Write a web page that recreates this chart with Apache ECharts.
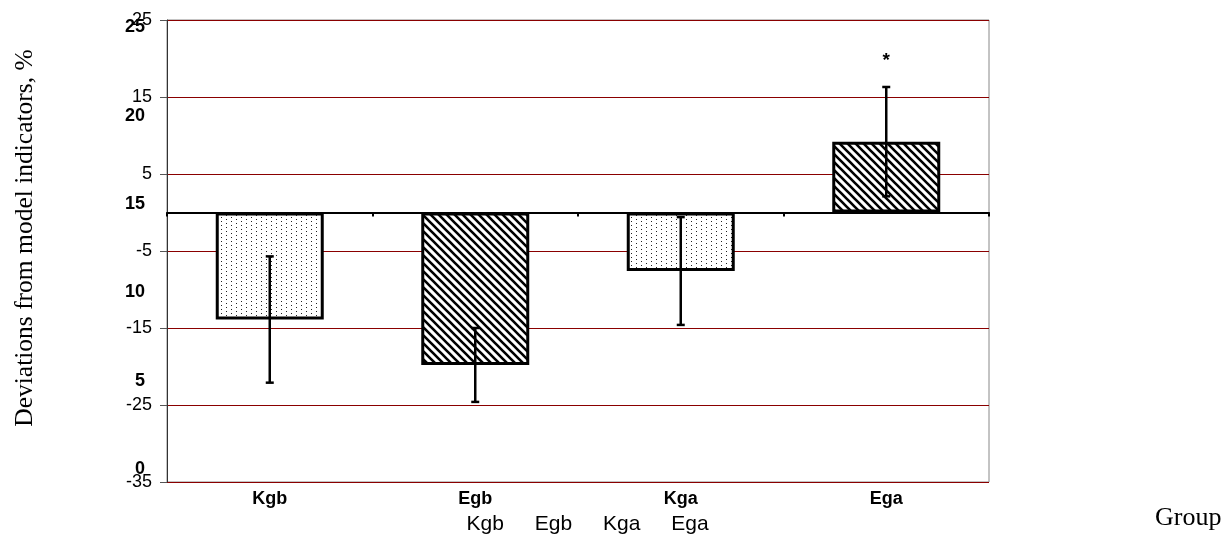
<!DOCTYPE html>
<html><head><meta charset="utf-8">
<script src="https://cdn.jsdelivr.net/npm/echarts@6/dist/echarts.min.js"></script>
<style>html,body{margin:0;padding:0;background:#fff}#c{width:1225px;height:535px}</style>
</head><body><div id="c"></div>
<script>
// ---- data ----
const categories = ['Kgb', 'Egb', 'Kga', 'Ega'];
const means = [-13.9, -19.8, -7.6, 9.2];
const errors = [8.2, 4.8, 7.0, 7.1];
const marks = ['', '', '', '*'];
const yMin = -35, yMax = 25, yStep = 10;
const ghostYMin = 0, ghostYMax = 25, ghostYStep = 5;
const ghostCategories = ['Kgb', 'Egb', 'Kga', 'Ega'];
const yTitle = 'Deviations from model indicators, %';
const xTitle = 'Group';

// ---- styles ----
const fills = ['dots', 'hatch', 'dots', 'hatch'];
function makeDots() {
  const c = document.createElement('canvas'); c.width = 10; c.height = 4;
  const g = c.getContext('2d'); g.fillStyle = '#fff'; g.fillRect(0, 0, 10, 4);
  g.fillStyle = '#222'; g.fillRect(1, 1, 1, 1); g.fillRect(6, 3, 1, 1);
  return { image: c, repeat: 'repeat' };
}
function makeHatch() {
  const s = 8; const c = document.createElement('canvas'); c.width = s; c.height = s;
  const g = c.getContext('2d'); g.fillStyle = '#fff'; g.fillRect(0, 0, s, s);
  g.strokeStyle = '#000'; g.lineWidth = 2.6; g.lineCap = 'square';
  g.beginPath();
  g.moveTo(-1, -1); g.lineTo(s + 1, s + 1);
  g.moveTo(-1, s - 1); g.lineTo(1, s + 1);
  g.moveTo(s - 1, -1); g.lineTo(s + 1, 1);
  g.stroke();
  return { image: c, repeat: 'repeat' };
}
const patterns = { dots: makeDots(), hatch: makeHatch() };
const SANS = '"Liberation Sans", Arial, sans-serif';
const SERIF = '"Liberation Serif", "Times New Roman", serif';

const barData = means.map((v, i) => ({ value: v, itemStyle: { color: patterns[fills[i]] } }));
const errData = means.map((v, i) => [i, v - errors[i], v + errors[i]]);

const chart = echarts.init(document.getElementById('c'), null, { renderer: 'canvas' });
chart.setOption({
  animation: false,
  backgroundColor: '#fff',
  grid: [
    { left: 167, top: 20, width: 822, height: 462, show: true, borderColor: '#888', borderWidth: 1, backgroundColor: 'transparent' },
    { left: 167, top: 27.5, width: 822, height: 441.5 },
    { left: 451, top: 490, width: 273, height: 20 }
  ],
  xAxis: [
    { gridIndex: 0, type: 'category', data: categories, position: 'bottom',
      axisLine: { show: false, onZero: false }, axisTick: { show: false },
      axisLabel: { color: '#000', fontFamily: SANS, fontWeight: 'bold', fontSize: 18, margin: 8 } },
    { gridIndex: 0, type: 'category', data: categories, position: 'top',
      axisLine: { show: true, onZero: true, lineStyle: { color: '#000', width: 2 } },
      axisTick: { show: true, inside: true, length: 4, lineStyle: { color: '#000', width: 2 } },
      axisLabel: { show: false } },
    { gridIndex: 1, type: 'value', show: false },
    { gridIndex: 2, type: 'category', data: ghostCategories,
      axisLine: { show: false }, axisTick: { show: false },
      axisLabel: { color: '#000', fontFamily: SANS, fontSize: 21, margin: 4 } }
  ],
  yAxis: [
    { gridIndex: 0, type: 'value', min: yMin, max: yMax, interval: yStep,
      axisLine: { show: true, lineStyle: { color: '#333', width: 1 } },
      axisTick: { show: true, length: 7, lineStyle: { color: '#555' } },
      axisLabel: { color: '#000', fontFamily: SANS, fontSize: 18, margin: 15 },
      splitLine: { show: true, lineStyle: { color: '#8a0000', width: 1 } } },
    { gridIndex: 1, type: 'value', min: ghostYMin, max: ghostYMax, interval: ghostYStep,
      axisLine: { show: false }, axisTick: { show: false }, splitLine: { show: false },
      axisLabel: { color: '#000', fontFamily: SANS, fontWeight: 'bold', fontSize: 18, margin: 22 } },
    { gridIndex: 2, type: 'value', show: false }
  ],
  graphic: [
    { type: 'text', x: 25, y: 238, rotation: Math.PI / 2,
      style: { text: yTitle, font: '25.5px ' + SERIF, fill: '#000', align: 'center', verticalAlign: 'middle' } },
    { type: 'text', x: 1155, y: 518,
      style: { text: xTitle, font: '26px ' + SERIF, fill: '#000', align: 'left', verticalAlign: 'middle' } }
  ],
  series: [
    { type: 'bar', xAxisIndex: 0, yAxisIndex: 0, data: barData, barWidth: 108, z: 3,
      itemStyle: { borderColor: '#000', borderWidth: 3 } },
    { type: 'custom', xAxisIndex: 0, yAxisIndex: 0, data: errData, z: 5,
      renderItem: function (params, api) {
        const x = api.value(0), lo = api.value(1), hi = api.value(2);
        const a = api.coord([x, lo]), b = api.coord([x, hi]);
        const cap = 4;
        const st = { stroke: '#000', lineWidth: 2.5 };
        const children = [
          { type: 'line', shape: { x1: a[0], y1: a[1], x2: b[0], y2: b[1] }, style: st },
          { type: 'line', shape: { x1: a[0] - cap, y1: a[1], x2: a[0] + cap, y2: a[1] }, style: st },
          { type: 'line', shape: { x1: b[0] - cap, y1: b[1], x2: b[0] + cap, y2: b[1] }, style: st }
        ];
        const m = marks[params.dataIndex];
        if (m) children.push({ type: 'text', x: b[0], y: b[1] - 26,
          style: { text: m, font: 'bold 19px ' + SANS, fill: '#000', align: 'center', verticalAlign: 'middle' } });
        return { type: 'group', children: children };
      } }
  ]
});
</script>
</body></html>
